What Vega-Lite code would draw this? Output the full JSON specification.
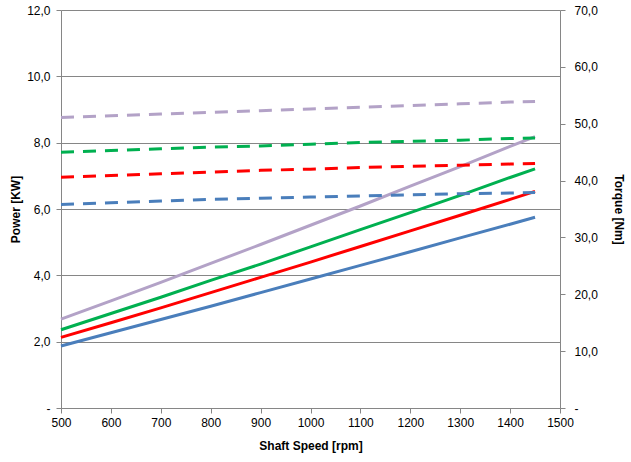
{
  "$schema": "https://vega.github.io/schema/vega-lite/v6.json",
  "width": 499,
  "height": 398,
  "autosize": {"type": "none"},
  "padding": {"left": 61, "top": 10, "right": 71, "bottom": 54},
  "config": {
    "view": {"stroke": null},
    "font": "Liberation Sans",
    "axis": {"labelFont": "Liberation Sans", "titleFont": "Liberation Sans", "labelColor": "#000000", "titleColor": "#000000", "labelFontSize": 12, "titleFontSize": 12, "titleFontWeight": "bold", "domainColor": "#868686", "tickColor": "#868686", "gridColor": "#868686", "gridOpacity": 1}
  },
  "data": {"values": [
    {"rpm": 500, "s": "A", "power": 1.87, "torque": 35.8},
    {"rpm": 600, "s": "A", "power": 2.27, "torque": 36.1},
    {"rpm": 700, "s": "A", "power": 2.67, "torque": 36.4},
    {"rpm": 800, "s": "A", "power": 3.07, "torque": 36.7},
    {"rpm": 900, "s": "A", "power": 3.48, "torque": 36.9},
    {"rpm": 1000, "s": "A", "power": 3.89, "torque": 37.1},
    {"rpm": 1100, "s": "A", "power": 4.30, "torque": 37.3},
    {"rpm": 1200, "s": "A", "power": 4.71, "torque": 37.5},
    {"rpm": 1300, "s": "A", "power": 5.13, "torque": 37.7},
    {"rpm": 1400, "s": "A", "power": 5.54, "torque": 37.8},
    {"rpm": 1450, "s": "A", "power": 5.75, "torque": 37.9},
    {"rpm": 500, "s": "B", "power": 2.13, "torque": 40.6},
    {"rpm": 600, "s": "B", "power": 2.57, "torque": 40.9},
    {"rpm": 700, "s": "B", "power": 3.02, "torque": 41.2},
    {"rpm": 800, "s": "B", "power": 3.48, "torque": 41.5},
    {"rpm": 900, "s": "B", "power": 3.94, "torque": 41.8},
    {"rpm": 1000, "s": "B", "power": 4.40, "torque": 42.0},
    {"rpm": 1100, "s": "B", "power": 4.87, "torque": 42.3},
    {"rpm": 1200, "s": "B", "power": 5.34, "torque": 42.5},
    {"rpm": 1300, "s": "B", "power": 5.81, "torque": 42.7},
    {"rpm": 1400, "s": "B", "power": 6.29, "torque": 42.9},
    {"rpm": 1450, "s": "B", "power": 6.53, "torque": 43.0},
    {"rpm": 500, "s": "C", "power": 2.36, "torque": 45.0},
    {"rpm": 600, "s": "C", "power": 2.85, "torque": 45.3},
    {"rpm": 700, "s": "C", "power": 3.34, "torque": 45.6},
    {"rpm": 800, "s": "C", "power": 3.85, "torque": 45.9},
    {"rpm": 900, "s": "C", "power": 4.34, "torque": 46.1},
    {"rpm": 1000, "s": "C", "power": 4.86, "torque": 46.4},
    {"rpm": 1100, "s": "C", "power": 5.38, "torque": 46.7},
    {"rpm": 1200, "s": "C", "power": 5.89, "torque": 46.9},
    {"rpm": 1300, "s": "C", "power": 6.41, "torque": 47.1},
    {"rpm": 1400, "s": "C", "power": 6.95, "torque": 47.4},
    {"rpm": 1450, "s": "C", "power": 7.21, "torque": 47.5},
    {"rpm": 500, "s": "D", "power": 2.68, "torque": 51.1},
    {"rpm": 600, "s": "D", "power": 3.23, "torque": 51.4},
    {"rpm": 700, "s": "D", "power": 3.79, "torque": 51.7},
    {"rpm": 800, "s": "D", "power": 4.36, "torque": 52.0},
    {"rpm": 900, "s": "D", "power": 4.93, "torque": 52.3},
    {"rpm": 1000, "s": "D", "power": 5.51, "torque": 52.6},
    {"rpm": 1100, "s": "D", "power": 6.09, "torque": 52.9},
    {"rpm": 1200, "s": "D", "power": 6.69, "torque": 53.2},
    {"rpm": 1300, "s": "D", "power": 7.28, "torque": 53.5},
    {"rpm": 1400, "s": "D", "power": 7.89, "torque": 53.8},
    {"rpm": 1450, "s": "D", "power": 8.18, "torque": 53.9}
  ]},
  "encoding": {
    "x": {"field": "rpm", "type": "quantitative", "scale": {"domain": [500, 1500], "nice": false, "zero": false},
      "axis": {"title": "Shaft Speed [rpm]", "values": [500,600,700,800,900,1000,1100,1200,1300,1400,1500], "format": "d", "labelFlush": false, "labelOverlap": false, "grid": false, "tickSize": 5, "labelPadding": 4, "titlePadding": 12}},
    "color": {"field": "s", "type": "nominal", "legend": null,
      "scale": {"domain": ["A","B","C","D"], "range": ["#4A7EBB", "#FF0000", "#00B050", "#B3A2C7"]}}
  },
  "layer": [
    {
      "mark": {"type": "line", "strokeWidth": 3},
      "encoding": {
        "y": {"field": "power", "type": "quantitative", "scale": {"domain": [0, 12], "nice": false},
          "axis": {"title": "Power [KW]", "orient": "left", "values": [0,2,4,6,8,10,12], "grid": true, "tickSize": 5, "labelPadding": 6, "titlePadding": 4, "labelFlush": false,
            "labelExpr": "datum.value == 0 ? '-' : replace(format(datum.value, '.1f'), '.', ',')"}}
      }
    },
    {
      "mark": {"type": "line", "strokeWidth": 3, "strokeDash": [13, 9]},
      "encoding": {
        "y": {"field": "torque", "type": "quantitative", "scale": {"domain": [0, 70], "nice": false},
          "axis": {"title": "Torque [Nm]", "orient": "right", "values": [0,10,20,30,40,50,60,70], "grid": false, "tickSize": 5, "labelPadding": 9, "titlePadding": 14, "labelFlush": false,
            "labelExpr": "datum.value == 0 ? '-' : replace(format(datum.value, '.1f'), '.', ',')"}}
      }
    }
  ],
  "resolve": {"scale": {"y": "independent"}}
}
